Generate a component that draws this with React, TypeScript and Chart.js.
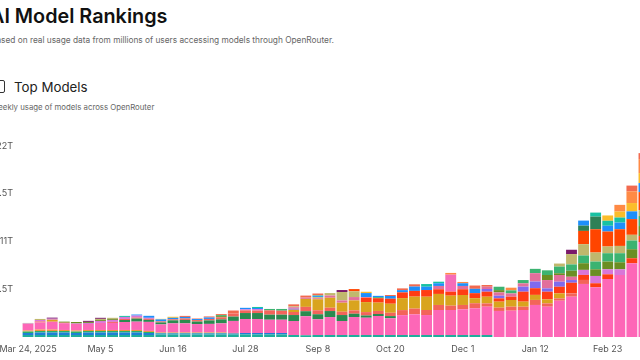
import React, { useEffect, useRef } from "react";
import { Chart, registerables } from "chart.js";

Chart.register(...registerables);

const weeks = [
  "Mar 24, 2025", "Mar 31", "Apr 7", "Apr 14", "Apr 21", "Apr 28", "May 5", "May 12", "May 19", "May 26",
  "Jun 2", "Jun 9", "Jun 16", "Jun 23", "Jun 30", "Jul 7", "Jul 14", "Jul 21", "Jul 28", "Aug 4",
  "Aug 11", "Aug 18", "Aug 25", "Sep 1", "Sep 8", "Sep 15", "Sep 22", "Sep 29", "Oct 6", "Oct 13",
  "Oct 20", "Oct 27", "Nov 3", "Nov 10", "Nov 17", "Nov 24", "Dec 1", "Dec 8", "Dec 15", "Dec 22",
  "Dec 29", "Jan 5", "Jan 12", "Jan 19", "Jan 26", "Feb 2", "Feb 9", "Feb 16", "Feb 23", "Mar 2",
  "Mar 9", "Mar 16",
];

// weekly tokens, in trillions (T)
const tealBase = [0.23,0.23,0.23,0.23,0.23,0.23,0.23,0.23,0.23,0.23, 0.23,0.29,0.29,0.29,0.29,0.29,0.29,0.29,0.29,0.29, 0.29,0.29,0.23,0.2,0.23,0.23,0.23,0.23,0.23,0.23, 0.23,0.23,0.23,0.23,0.23,0.23,0.23,0.23,0.23,0, 0,0,0,0,0,0,0,0,0,0, 0,0];
const blueBase = [0.23,0.29,0.29,0.29,0.23,0.29,0.29,0.29,0.29,0.29, 0.23,0.12,0.12,0.12,0.12,0.12,0.12,0.12,0.17,0.17, 0.17,0.17,0,0,0,0,0,0,0,0, 0,0,0,0,0,0,0,0,0,0, 0,0,0,0,0,0,0,0,0,0, 0,0];
const greenBase = [0.17,0.17,0.17,0.17,0.17,0.17,0.17,0.17,0.17,0.17, 0.12,0.06,0.06,0.06,0.06,0.06,0.06,0,0,0, 0,0,0,0,0,0,0,0,0,0, 0,0,0,0,0,0,0,0,0,0, 0,0,0,0,0,0,0,0,0,0, 0,0];
const orangeBase = [0.12,0.17,0.17,0.12,0.12,0.12,0.12,0.12,0.12,0.12, 0.12,0.06,0.06,0.06,0.06,0.06,0.06,0.06,0,0, 0,0,0,0,0,0,0,0,0,0, 0,0,0,0,0,0,0,0,0,0, 0,0,0,0,0,0,0,0,0,0, 0,0];
const pinkMain = [0.75,0.81,0.90,0.78,0.75,0.69,0.81,0.81,0.92,0.96, 1.04,0.92,1.04,1.04,0.96,0.98,1.04,1.38,1.61,1.61, 1.53,1.53,1.61,2.19,1.81,2.07,1.61,2.07,1.99,2.19, 1.92,2.29,2.38,2.30,2.88,2.88,2.96,3.08,3.26,3.00, 3.03,3.11,3.69,3.49,4.18,4.64,6.11,5.73,6.68,7.14, 8.49,10.94];
const darkGreen = [0,0,0,0,0,0,0,0,0.23,0.35, 0.23,0.23,0.35,0.40,0.29,0.40,0.46,0.50,0.69,0.69, 0.58,0.58,0.69,0.58,0.58,0.69,0.69,0.38,0.26,0.23, 0.26,0,0,0,0,0,0,0,0,0, 0,0,0,0,0,0,0,0,0,0, 0,0];
const salmon = [0,0.12,0,0.06,0,0,0,0.12,0.12,0.12, 0.12,0.12,0.12,0.17,0.17,0.17,0.23,0.35,0.31,0.29, 0.50,0.46,0.35,0.50,0.46,0.38,0.38,0.39,0.39,0.35, 0.38,0.58,0.66,0.58,0.58,0.50,0.50,0.58,0.38,0.38, 0.46,0.38,0.58,0.38,0.26,0.38,0.46,0,0,0, 0,0];
const gold = [0,0,0.23,0,0,0,0,0,0,0, 0,0,0,0,0,0,0,0,0,0, 0,0,0.26,0.92,1.27,1.15,1.04,1.15,1.15,0.96, 1.04,1.38,1.38,1.53,1.27,1.15,1.15,0.58,0.77,0.69, 0.77,0.58,0.58,0.46,0.58,0,0,0,0,0, 0,0];
const red = [0,0,0,0,0,0,0,0,0,0, 0,0,0,0,0,0,0,0,0,0, 0,0,0,0,0,0,0,0,0.50,0.51, 0.58,0.66,0.66,0.77,0.54,0.46,0.66,0.58,0.58,0.38, 0.38,1.15,0.77,0.89,0.77,1.23,0.58,0.46,0.54,0, 0.58,0.69];
const violet = [0,0,0,0,0,0,0,0,0,0, 0,0,0,0,0,0,0,0,0,0, 0,0,0.12,0,0,0,0,0,0,0, 0,0,0,0,0,0,0,0,0.31,0.31, 0,0.58,0.77,0.38,0.58,0.31,0,0,0,0, 0,0];
const orchid = [0.06,0.17,0.12,0,0.06,0.12,0.23,0.23,0.23,0.23, 0.12,0,0,0,0,0,0,0,0.12,0.17, 0,0,0,0,0,0,0,0,0,0, 0,0,0,0,0,0,0,0,0,0, 0,0,0,0,0,0,0.58,0.84,0.58,0.66, 0,0];
const rose = [0,0,0,0,0,0,0,0,0,0, 0,0,0,0,0,0,0,0,0,0, 0,0,0.17,0.15,0.12,0.26,0.26,0.38,0.08,0, 0,0,0,0,0.38,0,0.38,0,0.26,0.38, 0.38,0.38,0.96,0.96,0.77,0.38,0,0,0,0, 0,0];
const olive = [0,0,0,0.12,0.17,0.12,0.12,0.12,0,0, 0,0,0,0,0,0,0.14,0,0,0, 0,0,0,0,0,0,0,0,0,0, 0,0,0,0,0,0,0,0,0,0.26, 0,0,0,0.58,0.20,0.69,0.77,0.77,0.89,0.81, 1.04,1.15];
const seaGreen = [0,0,0,0,0,0,0,0,0,0, 0,0,0,0,0,0,0.12,0,0,0, 0.16,0.20,0,0,0,0,0,0,0,0.12, 0,0,0,0,0,0,0,0,0,0.39, 0.35,0.38,0.50,0.54,0.77,0.73,0.89,0.89,0.96,1.04, 1.00,1.15];
const khaki = [0.06,0.12,0,0,0,0,0.12,0.12,0,0, 0,0,0,0,0,0,0,0,0,0, 0,0,0.10,0,0.12,0.28,0.97,0.66,0,0, 0,0,0,0,0,0,0,0,0,0, 0,0,0,0,0.35,1.19,1.30,1.04,0.77,0.84, 0.66,0.69];
const orangeRed = [0,0,0,0,0,0,0,0,0,0, 0,0,0,0,0,0,0,0,0,0, 0,0,0,0,0,0,0,0.26,0,0, 0,0,0,0,0,0,0,0,0,0, 0,0,0,0,0,0,1.53,2.68,1.73,1.92, 1.81,2.07];
const forest = [0,0,0,0,0,0,0,0,0,0, 0,0,0,0,0,0,0,0,0,0, 0,0,0,0,0,0,0,0,0,0, 0,0,0,0,0,0,0,0,0,0, 0,0,0,0,0,0,0.61,1.46,0,0, 0,0];
const dodger = [0,0,0,0,0,0,0,0,0,0.12, 0.23,0.23,0.17,0.17,0.12,0.17,0,0,0.17,0.12, 0,0,0,0,0.12,0,0,0,0.46,0.15, 0.31,0.26,0.50,0.38,0.31,0,0.31,0.50,0,0, 0,0,0,0,0,0,0.58,0,0.66,0.77, 0.89,1.04];
const tealTop = [0,0,0,0,0,0,0,0,0.12,0, 0,0,0,0,0,0,0,0,0,0.12, 0,0,0,0,0.07,0,0,0,0,0, 0,0,0,0.31,0.18,0,0,0,0,0, 0,0,0,0,0,0,0,0.46,0.58,0.58, 0,0];
const pinkSpike = [0,0,0,0,0,0,0,0,0,0, 0,0,0,0,0,0,0,0,0,0, 0,0,0,0,0,0,0,0,0,0, 0,0,0,0,0,1.96,0,0,0,0, 0,0,0,0,0,0,0,0,0,0, 0,0];
const amber = [0,0,0,0,0,0,0,0,0,0, 0,0.06,0.12,0,0,0,0,0,0,0, 0,0,0,0,0,0,0,0,0.15,0, 0,0,0,0,0,0,0,0,0,0, 0,0,0,0,0,0,0,0,0.61,0.69, 0.96,1.15];
const orangeTop = [0,0,0,0,0,0,0,0,0,0, 0,0,0,0,0,0,0,0,0,0, 0,0,0,0,0,0,0,0,0,0, 0,0,0,0,0,0.20,0.15,0,0,0, 0.31,0,0,0,0,0,0,0,0,0.77, 1.35,1.61];
const coral = [0,0,0,0,0,0,0,0,0,0, 0,0,0,0.12,0.06,0.12,0.12,0.35,0,0, 0,0,0.23,0.23,0.23,0,0,0,0,0, 0.12,0.20,0.26,0,0,0,0,0.38,0.20,0, 0,0,0,0,0,0,0,0,0,0, 0.66,0.69];
const purple = [0,0,0.12,0,0,0.12,0.12,0,0,0, 0,0,0,0,0,0,0,0,0,0, 0,0,0,0,0,0,0.23,0,0,0, 0,0,0,0,0,0,0,0,0,0, 0,0,0,0,0,0.50,0,0,0,0, 0,0];

const yTicks = [0, 5.5, 11, 16.5, 22];

const series: [string, number[], string][] = [
  ["teal", tealBase, "#1fae9b"],
  ["blue", blueBase, "#1f7fd6"],
  ["green", greenBase, "#27b36b"],
  ["orange", orangeBase, "#f4913a"],
  ["pink", pinkMain, "#fd67b7"],
  ["darkgreen", darkGreen, "#2b8a50"],
  ["salmon", salmon, "#f3645a"],
  ["gold", gold, "#d9a41e"],
  ["red", red, "#ff3c14"],
  ["violet", violet, "#7f6aee"],
  ["orchid", orchid, "#d976d8"],
  ["rose", rose, "#e26f9c"],
  ["olive", olive, "#6b8e23"],
  ["seagreen", seaGreen, "#3cb371"],
  ["khaki", khaki, "#c0b86d"],
  ["orangered", orangeRed, "#ff4500"],
  ["forest", forest, "#2e8056"],
  ["dodger", dodger, "#1e8ffa"],
  ["tealTop", tealTop, "#17c2a3"],
  ["pinkSpike", pinkSpike, "#f56cb8"],
  ["amber", amber, "#fbbd2a"],
  ["orangeTop", orangeTop, "#ff8a45"],
  ["coral", coral, "#f26a4f"],
  ["purple", purple, "#7a1a6a"],
];

export default function App() {
  const ref = useRef<HTMLCanvasElement | null>(null);

  useEffect(() => {
    if (!ref.current) return;
    const chart = new Chart(ref.current, {
      type: "bar",
      data: {
        labels: weeks,
        datasets: series.map(([name, values, color]) => ({
          label: name,
          data: values,
          backgroundColor: color,
          borderWidth: 0,
          categoryPercentage: 1,
          barPercentage: 0.9,
        })),
      },
      options: {
        animation: false,
        responsive: false,
        layout: { padding: { top: 16, right: 10, left: 0, bottom: 0 } },
        plugins: { legend: { display: false }, tooltip: { enabled: false } },
        scales: {
          x: {
            stacked: true,
            grid: { display: false, drawTicks: false },
            border: { display: false },
            ticks: {
              autoSkip: false,
              maxRotation: 0,
              minRotation: 0,
              padding: 7,
              color: "#555",
              font: { family: "Inter, sans-serif", size: 9 },
              callback: (_v: any, i: number) => (i % 6 === 0 ? weeks[i] : ""),
            },
            afterFit: (s: any) => {
              s.height = 23;
            },
          },
          y: {
            stacked: true,
            min: 0,
            max: 22,
            grid: { display: false, drawTicks: false },
            border: { display: false },
            afterBuildTicks: (s: any) => {
              s.ticks = yTicks.map((v) => ({ value: v }));
            },
            ticks: {
              padding: 9,
              color: "#555",
              font: { family: "Inter, sans-serif", size: 9 },
              callback: (v: any) => (Number(v) === 0 ? "" : `${v}T`),
            },
            afterFit: (s: any) => {
              s.width = 52;
            },
          },
        },
      },
    });
    return () => chart.destroy();
  }, []);

  return (
    <div
      style={{
        position: "fixed",
        left: 0,
        top: 0,
        width: 640,
        height: 360,
        overflow: "hidden",
        background: "#fff",
        fontFamily: "Inter, sans-serif",
      }}
    >
      <div style={{ position: "absolute", left: -10, top: 4, fontSize: 19.8, fontWeight: 600, color: "#111", lineHeight: "24px", whiteSpace: "nowrap" }}>
        AI Model Rankings
      </div>
      <div style={{ position: "absolute", left: -9, top: 34, fontSize: 8.3, color: "#666", lineHeight: "12px", whiteSpace: "nowrap" }}>
        Based on real usage data from millions of users accessing models through OpenRouter.
      </div>
      <div style={{ position: "absolute", left: -7, top: 80, width: 12, height: 13, border: "1.3px solid #333", borderRadius: 2, boxSizing: "border-box" }} />
      <div style={{ position: "absolute", left: 14, top: 78, fontSize: 13.3, color: "#222", lineHeight: "18px", whiteSpace: "nowrap" }}>
        Top Models
      </div>
      <div style={{ position: "absolute", left: -9, top: 101, fontSize: 7.8, color: "#666", lineHeight: "12px", whiteSpace: "nowrap" }}>
        Weekly usage of models across OpenRouter
      </div>
      <div style={{ position: "absolute", left: -30, top: 130, width: 690, height: 230 }}>
        <canvas ref={ref} width={690} height={230} style={{ display: "block", width: 690, height: 230 }} />
      </div>
    </div>
  );
}
